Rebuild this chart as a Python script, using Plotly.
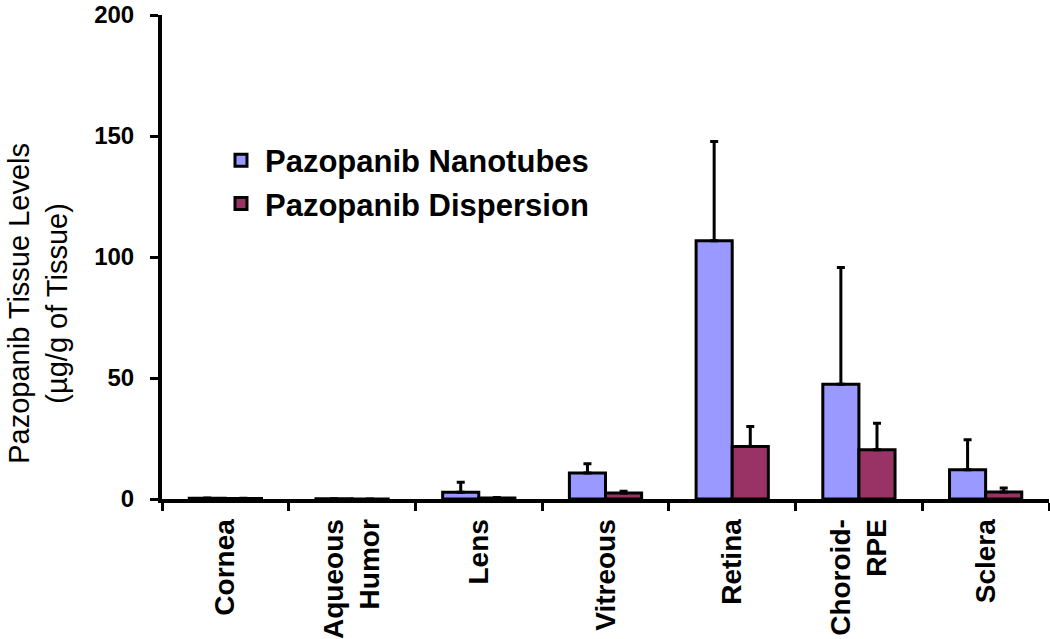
import plotly.graph_objects as go

categories = ["Cornea", "Aqueous<br>Humor", "Lens", "Vitreous", "Retina", "Choroid-<br>RPE", "Sclera"]
nanotubes = [0.3, 0.1, 2.8, 10.7, 106.7, 47.4, 12.1]
nanotubes_err = [0.1, 0.0, 4.1, 3.9, 41.0, 48.3, 12.4]
dispersion = [0.2, 0.05, 0.4, 2.5, 21.7, 20.3, 2.9]
dispersion_err = [0.1, 0.0, 0.2, 0.7, 8.3, 11.0, 1.6]
y_ticks = [0, 50, 100, 150, 200]

FONT = "Arial, 'Liberation Sans', sans-serif"

fig = go.Figure()
fig.add_trace(go.Bar(
    x=categories, y=nanotubes, name="Pazopanib Nanotubes",
    marker=dict(color="#9999FF", line=dict(color="black", width=3)),
    error_y=dict(type="data", array=nanotubes_err, arrayminus=[0]*len(nanotubes_err),
                 symmetric=False, color="black", thickness=3, width=4),
))
fig.add_trace(go.Bar(
    x=categories, y=dispersion, name="Pazopanib Dispersion",
    marker=dict(color="#993366", line=dict(color="black", width=3)),
    error_y=dict(type="data", array=dispersion_err, arrayminus=[0]*len(dispersion_err),
                 symmetric=False, color="black", thickness=3, width=4),
))

fig.update_layout(
    width=1050, height=639,
    margin=dict(l=162, r=1, t=15, b=140, autoexpand=False),
    paper_bgcolor="white", plot_bgcolor="white",
    barmode="group", bargap=0.43, bargroupgap=0,
    font=dict(family=FONT, color="black"),
    showlegend=True,
    legend=dict(x=0.062, y=0.755, xanchor="left", yanchor="top",
                font=dict(family=FONT, size=31, color="black", weight="bold"),
                bgcolor="rgba(0,0,0,0)", tracegroupgap=0, itemwidth=38),
    xaxis=dict(
        type="category", tickson="boundaries", ticks="outside", ticklen=8, tickwidth=3,
        tickcolor="black", showline=True, linecolor="black", linewidth=4,
        tickangle=-90, showgrid=False, zeroline=False, automargin=False,
        ticklabelstandoff=5,
        tickfont=dict(family=FONT, size=28, color="black", weight="bold"),
    ),
    yaxis=dict(
        range=[0, 200], tickvals=y_ticks, ticks="outside", ticklen=8, tickwidth=3,
        tickcolor="black", showline=True, linecolor="black", linewidth=4,
        showgrid=False, zeroline=False, automargin=False,
        ticklabelstandoff=11, ticklabeloverflow="allow",
        tickfont=dict(family=FONT, size=24, color="black", weight="bold"),
    ),
    annotations=[dict(
        text="Pazopanib Tissue Levels<br>(µg/g of Tissue)",
        xref="paper", yref="paper", x=-0.140, y=0.405,
        xanchor="center", yanchor="middle", textangle=-90, showarrow=False,
        font=dict(family=FONT, size=29, color="black"),
    )],
)

fig.write_html("out.html", config={"displayModeBar": False},
               post_script="document.body.style.margin='0';")
